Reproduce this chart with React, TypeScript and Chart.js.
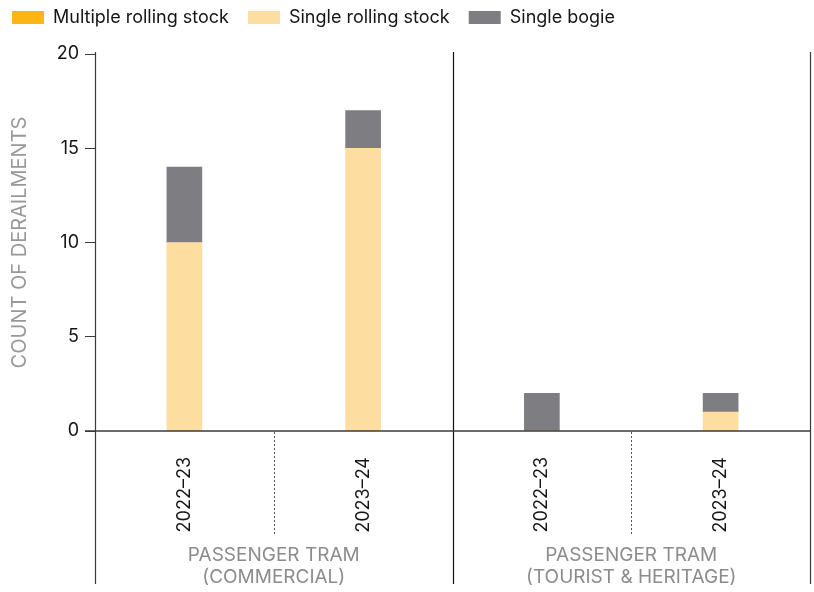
import React, { useEffect, useRef } from "react";
import { Chart, registerables } from "chart.js";

Chart.register(...registerables);

const categories = ["2022–23", "2023–24", "2022–23", "2023–24"];
const groupLabels = [
  ["PASSENGER TRAM", "(COMMERCIAL)"],
  ["PASSENGER TRAM", "(TOURIST & HERITAGE)"],
];
const multipleRollingStock = [0, 0, 0, 0];
const singleRollingStock = [10, 15, 0, 1];
const singleBogie = [4, 2, 2, 1];
const yTicks = [0, 5, 10, 15, 20];

const seriesNames = ["Multiple rolling stock", "Single rolling stock", "Single bogie"];
const seriesColors = ["#FDB515", "#FEDDA1", "#7E7E82"];

const FONT = "Inter, 'Liberation Sans', Arial, sans-serif";
const LINE = "#3a3a3a";

const decorPlugin = {
  id: "decor",
  afterDraw(chart: any) {
    const ctx = chart.ctx;
    const area = chart.chartArea;
    const x = chart.scales.x;
    const bottomEnd = 584;
    const mid = (a: number, b: number) => (x.getPixelForValue(a) + x.getPixelForValue(b)) / 2;
    ctx.save();
    ctx.lineWidth = 1.2;
    const verticals = [area.left, mid(1, 2), area.right];
    verticals.forEach((vx: number, i: number) => {
      ctx.strokeStyle = i === 1 ? "#111" : LINE;
      ctx.beginPath();
      ctx.moveTo(Math.round(vx) + 0.5, area.top - 2);
      ctx.lineTo(Math.round(vx) + 0.5, bottomEnd);
      ctx.stroke();
    });
    ctx.strokeStyle = LINE;
    ctx.lineWidth = 1.5;
    ctx.beginPath();
    ctx.moveTo(area.left - 10, area.bottom);
    ctx.lineTo(area.right, area.bottom);
    ctx.stroke();
    ctx.strokeStyle = "#555";
    ctx.lineWidth = 1;
    ctx.setLineDash([2, 2]);
    [mid(0, 1), mid(2, 3)].forEach((dx: number) => {
      ctx.beginPath();
      ctx.moveTo(Math.round(dx) + 0.5, area.bottom + 1);
      ctx.lineTo(Math.round(dx) + 0.5, area.bottom + 105);
      ctx.stroke();
    });
    ctx.setLineDash([]);
    ctx.fillStyle = "#8c8c8c";
    ctx.font = `19px ${FONT}`;
    ctx.textAlign = "center";
    ctx.textBaseline = "middle";
    groupLabels.forEach((lines, gi) => {
      const cx = mid(gi * 2, gi * 2 + 1);
      lines.forEach((t, li) => {
        ctx.fillText(t, cx, 555 + li * 22);
      });
    });
    ctx.textAlign = "left";
    ctx.font = `18px ${FONT}`;
    let lx = 12;
    seriesNames.forEach((name, i) => {
      ctx.fillStyle = seriesColors[i];
      ctx.fillRect(lx, 11, 32, 13);
      ctx.fillStyle = "#151515";
      ctx.fillText(name, lx + 41, 18);
      lx += 41 + ctx.measureText(name).width + 19;
    });
    ctx.restore();
  },
};

export default function App() {
  const ref = useRef<HTMLCanvasElement | null>(null);
  useEffect(() => {
    if (!ref.current) return;
    const chart = new Chart(ref.current, {
      type: "bar",
      data: {
        labels: categories,
        datasets: [
          { label: seriesNames[0], data: multipleRollingStock, backgroundColor: seriesColors[0], barThickness: 35 },
          { label: seriesNames[1], data: singleRollingStock, backgroundColor: seriesColors[1], barThickness: 35 },
          { label: seriesNames[2], data: singleBogie, backgroundColor: seriesColors[2], barThickness: 35 },
        ],
      },
      options: {
        animation: false,
        responsive: true,
        maintainAspectRatio: false,
        layout: { padding: { top: 54, right: 4, left: 0, bottom: 0 } },
        plugins: { legend: { display: false }, tooltip: { enabled: false } },
        scales: {
          x: {
            stacked: true,
            grid: { display: false },
            border: { display: false },
            ticks: {
              maxRotation: 90,
              minRotation: 90,
              padding: 18,
              color: "#151515",
              font: { size: 18, family: FONT },
            },
            afterFit: (s: any) => {
              s.height = 161;
            },
          },
          y: {
            stacked: true,
            min: 0,
            max: 20,
            afterBuildTicks: (s: any) => {
              s.ticks = yTicks.map((v) => ({ value: v }));
            },
            grid: { drawOnChartArea: false, drawTicks: true, tickLength: 10, color: LINE },
            border: { display: true, color: LINE },
            ticks: { padding: 6, color: "#151515", font: { size: 18, family: FONT } },
            title: {
              display: true,
              text: "COUNT OF DERAILMENTS",
              color: "#999",
              font: { size: 20, family: FONT },
              padding: 8,
            },
            afterFit: (s: any) => {
              s.width = 95;
            },
          },
        },
      },
      plugins: [decorPlugin],
    });
    return () => chart.destroy();
  }, []);
  return (
    <div style={{ position: "absolute", left: 0, top: 0, width: 814, height: 592 }}>
      <canvas ref={ref} />
    </div>
  );
}
